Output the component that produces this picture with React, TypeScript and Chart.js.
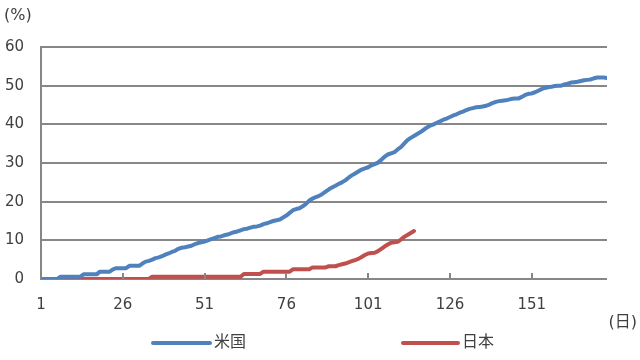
import React, { useEffect, useRef } from "react";
import { Chart, registerables } from "chart.js";

Chart.register(...registerables);

const SERIES_NAMES = ["米国", "日本"];
const X_TICKS = [1, 26, 51, 76, 101, 126, 151];
const Y_MIN = 0;
const Y_MAX = 60;
const Y_STEP = 10;
const DAY_MAX = 174;

const US_VALUES = [
  0, 0, 0, 0, 0, 0, 0.6, 0.6, 0.6, 0.6,
  0.6, 0.6, 0.6, 1.2, 1.2, 1.2, 1.2, 1.2, 1.9, 1.9,
  1.9, 1.9, 2.5, 2.8, 2.8, 2.8, 2.8, 3.4, 3.4, 3.4,
  3.4, 4.0, 4.5, 4.7, 5.0, 5.4, 5.6, 5.9, 6.3, 6.6,
  7.0, 7.3, 7.8, 8.1, 8.2, 8.4, 8.6, 9.0, 9.3, 9.5,
  9.7, 10.0, 10.3, 10.6, 10.9, 11.0, 11.3, 11.5, 11.8, 12.1,
  12.3, 12.6, 12.9, 13.0, 13.3, 13.5, 13.6, 13.8, 14.2, 14.4,
  14.7, 15.0, 15.2, 15.4, 15.9, 16.4, 17.1, 17.8, 18.1, 18.3,
  18.8, 19.4, 20.3, 20.8, 21.2, 21.5, 22.0, 22.6, 23.2, 23.7,
  24.1, 24.6, 25.0, 25.5, 26.2, 26.8, 27.3, 27.8, 28.3, 28.6,
  28.9, 29.4, 29.7, 30.1, 30.8, 31.6, 32.2, 32.5, 32.8, 33.5,
  34.1, 35.0, 35.9, 36.5, 37.0, 37.5, 38.0, 38.6, 39.2, 39.7,
  40.0, 40.4, 40.8, 41.2, 41.5, 41.9, 42.3, 42.6, 43.0, 43.3,
  43.7, 44.0, 44.2, 44.4, 44.5, 44.6, 44.8, 45.1, 45.5, 45.8,
  46.0, 46.1, 46.2, 46.4, 46.6, 46.7, 46.7, 47.1, 47.6, 47.9,
  48.0, 48.3, 48.7, 49.1, 49.4, 49.6, 49.7, 49.9, 50.0, 50.0,
  50.3, 50.5, 50.8, 50.9, 51.0, 51.2, 51.4, 51.5, 51.6, 51.9,
  52.1, 52.1, 52.1, 52.0,
];

const JP_VALUES = [
  0, 0, 0, 0, 0, 0, 0, 0, 0, 0,
  0, 0, 0, 0, 0, 0, 0, 0, 0, 0,
  0, 0, 0, 0, 0, 0, 0, 0, 0, 0,
  0, 0, 0, 0, 0.6, 0.6, 0.6, 0.6, 0.6, 0.6,
  0.6, 0.6, 0.6, 0.6, 0.6, 0.6, 0.6, 0.6, 0.6, 0.6,
  0.6, 0.6, 0.6, 0.6, 0.6, 0.6, 0.6, 0.6, 0.6, 0.6,
  0.6, 0.6, 1.3, 1.3, 1.3, 1.3, 1.3, 1.3, 1.9, 1.9,
  1.9, 1.9, 1.9, 1.9, 1.9, 1.9, 1.9, 2.5, 2.5, 2.5,
  2.5, 2.5, 2.5, 3.0, 3.0, 3.0, 3.0, 3.0, 3.3, 3.3,
  3.3, 3.6, 3.8, 4.0, 4.3, 4.6, 4.9, 5.2, 5.7, 6.2,
  6.6, 6.7, 6.8, 7.2, 7.8, 8.4, 8.9, 9.4, 9.5, 9.6,
  10.2, 10.9, 11.4, 11.9, 12.4,
];

const COLORS = ["#4F81BD", "#C0504D"];
const GRID_COLOR = "#878787";
const TEXT_COLOR = "#404040";
const FONT_FAMILY = "'DejaVu Sans', 'Noto Sans CJK JP', sans-serif";

const toPoints = (vals: number[]) => vals.map((v, i) => ({ x: i + 1, y: v }));

const extrasPlugin = {
  id: "extras",
  afterDraw(chart: any) {
    const ctx = chart.ctx;
    const xs = chart.scales.x;
    const area = chart.chartArea;
    ctx.save();
    // tick marks on x axis
    ctx.strokeStyle = GRID_COLOR;
    ctx.lineWidth = 2;
    X_TICKS.forEach((t) => {
      const px = Math.round(xs.getPixelForValue(t));
      ctx.beginPath();
      ctx.moveTo(px, area.bottom);
      ctx.lineTo(px, area.bottom - 6);
      ctx.stroke();
    });
    // unit labels
    ctx.fillStyle = TEXT_COLOR;
    ctx.font = `16px ${FONT_FAMILY}`;
    ctx.textBaseline = "middle";
    ctx.textAlign = "left";
    ctx.fillText("(%)", 4, 16);
    ctx.textAlign = "right";
    ctx.fillText("(日)", 637, 323);
    // legend
    const items = [
      { x0: 153, x1: 210, tx: 214 },
      { x0: 403, x1: 458, tx: 462 },
    ];
    const ly = 343;
    chart.data.datasets.forEach((ds: any, i: number) => {
      const it = items[i];
      ctx.strokeStyle = ds.borderColor;
      ctx.lineWidth = 4;
      ctx.lineCap = "round";
      ctx.beginPath();
      ctx.moveTo(it.x0, ly);
      ctx.lineTo(it.x1, ly);
      ctx.stroke();
      ctx.fillStyle = TEXT_COLOR;
      ctx.textAlign = "left";
      ctx.fillText(ds.label, it.tx, ly);
    });
    ctx.restore();
  },
};

export default function App() {
  const ref = useRef<HTMLCanvasElement>(null);
  useEffect(() => {
    if (!ref.current) return;
    const chart = new Chart(ref.current, {
      type: "line",
      data: {
        datasets: [
          {
            label: SERIES_NAMES[0],
            data: toPoints(US_VALUES),
            borderColor: COLORS[0],
            backgroundColor: COLORS[0],
            borderWidth: 4,
            pointRadius: 0,
            tension: 0,
            borderJoinStyle: "round",
            borderCapStyle: "round",
          },
          {
            label: SERIES_NAMES[1],
            data: toPoints(JP_VALUES),
            borderColor: COLORS[1],
            backgroundColor: COLORS[1],
            borderWidth: 4,
            pointRadius: 0,
            tension: 0,
            borderJoinStyle: "round",
            borderCapStyle: "round",
          },
        ],
      },
      options: {
        responsive: false,
        animation: false,
        layout: { padding: { top: 47, right: 33, left: 0, bottom: 0 } },
        plugins: { legend: { display: false }, tooltip: { enabled: false } },
        scales: {
          x: {
            type: "linear",
            min: 1,
            max: DAY_MAX,
            afterBuildTicks: (s: any) => {
              s.ticks = X_TICKS.map((v) => ({ value: v }));
            },
            afterFit: (s: any) => {
              s.height = 81;
            },
            ticks: {
              autoSkip: false,
              maxRotation: 0,
              padding: 9,
              color: TEXT_COLOR,
              font: { family: FONT_FAMILY, size: 15 },
            },
            grid: { display: false },
            border: { display: false },
          },
          y: {
            min: Y_MIN,
            max: Y_MAX,
            afterFit: (s: any) => {
              s.width = 41;
            },
            ticks: {
              stepSize: Y_STEP,
              padding: 17,
              color: TEXT_COLOR,
              font: { family: FONT_FAMILY, size: 15 },
            },
            grid: { color: GRID_COLOR, lineWidth: 2, drawTicks: false },
            border: { display: true, color: GRID_COLOR, width: 2 },
          },
        },
      },
      plugins: [extrasPlugin],
    });
    return () => chart.destroy();
  }, []);
  return (
    <div style={{ position: "absolute", left: 0, top: 0, width: 640, height: 360, background: "#fff" }}>
      <canvas ref={ref} width={640} height={360} />
    </div>
  );
}
